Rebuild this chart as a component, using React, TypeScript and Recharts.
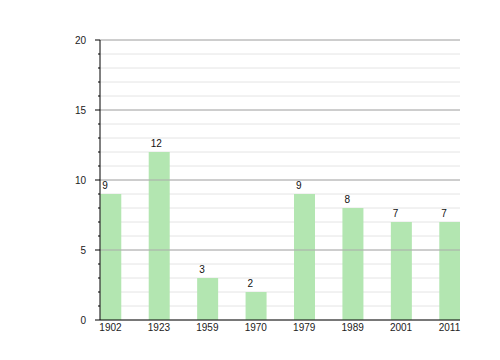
import { BarChart, Bar, XAxis, YAxis, CartesianGrid, ReferenceLine, LabelList } from 'recharts';

const YEARS = ['1902', '1923', '1959', '1970', '1979', '1989', '2001', '2011'];
const COUNTS = [9, 12, 3, 2, 9, 8, 7, 7];
const Y_TICKS = [0, 1, 2, 3, 4, 5, 6, 7, 8, 9, 10, 11, 12, 13, 14, 15, 16, 17, 18, 19, 20];
const MAJOR_TICKS = [5, 10, 15, 20];

const data = YEARS.map((year, i) => ({ idx: i, year, count: COUNTS[i] }));

const FONT = '"Liberation Sans", Arial, sans-serif';

// y ticks: labels + long mark every 5, short mark on each unit
function YTick(props: any) {
  const { x, y, payload } = props;
  const v = payload.value;
  const major = v % 5 === 0;
  const axisX = x + 14;
  return (
    <g>
      <line x1={axisX - (major ? 5 : 2)} x2={axisX} y1={y} y2={y} stroke="#000" />
      {major && (
        <text x={x} y={y} dy={4} textAnchor="end" fontSize={10} fontFamily={FONT} fill="#222">
          {v}
        </text>
      )}
    </g>
  );
}

function BarValue(props: any) {
  const { x, y, value } = props;
  return (
    <text x={x + 2} y={y - 5} textAnchor="start" fontSize={10} fontFamily={FONT} fill="#111">
      {value}
    </text>
  );
}

export default function App() {
  return (
    <div style={{ position: 'absolute', left: 0, top: 0, width: 500, height: 360, background: '#fff' }}>
      <BarChart width={500} height={360} data={data} margin={{ top: 40, right: 40, bottom: 0, left: 0 }}>
        <CartesianGrid vertical={false} stroke="#e4e4e4" />
        {MAJOR_TICKS.map(t => (
          <ReferenceLine key={t} y={t} stroke="#aaaaaa" ifOverflow="extendDomain" />
        ))}
        <XAxis
          type="number"
          dataKey="idx"
          domain={[-0.2168, 7.2168]}
          ticks={[0, 1, 2, 3, 4, 5, 6, 7]}
          tickFormatter={(i: number) => YEARS[i]}
          allowDataOverflow
          height={40}
          tickLine={false}
          tickSize={4}
          tickMargin={0}
          axisLine={{ stroke: '#000' }}
          tick={{ fontSize: 10, fontFamily: FONT, fill: '#222' }}
        />
        <YAxis
          width={100}
          domain={[0, 20]}
          ticks={Y_TICKS}
          interval={0}
          tickLine={false}
          tickSize={5}
          tickMargin={9}
          axisLine={{ stroke: '#000' }}
          tick={<YTick />}
        />
        <Bar dataKey="count" fill="#b3e6b1" barSize={21} isAnimationActive={false}>
          <LabelList dataKey="count" content={<BarValue />} />
        </Bar>
      </BarChart>
    </div>
  );
}
